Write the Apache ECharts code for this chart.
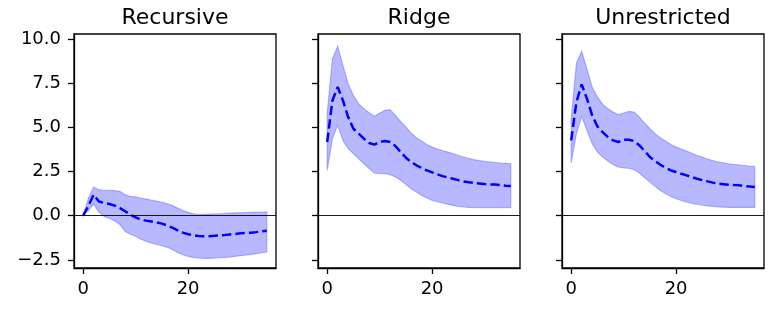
<!DOCTYPE html>
<html>
<head>
<meta charset="utf-8">
<script src="https://cdn.jsdelivr.net/npm/echarts@6/dist/echarts.min.js"></script>
<style>html,body{margin:0;padding:0;background:#fff;}#c{width:776px;height:314px;}</style>
</head>
<body>
<div id="c"></div>
<script>
// ---- data ----
const titles = ['Recursive', 'Ridge', 'Unrestricted'];
const horizons = Array.from({length: 36}, (_, i) => i);
const yTicks = [-2.5, 0, 2.5, 5, 7.5, 10];
const xTicks = [0, 20];

const recursiveMean = [0, 0.57, 1.19, 0.8, 0.72, 0.66, 0.57, 0.43, 0.25, 0.06, -0.09, -0.22, -0.28, -0.33, -0.38, -0.45, -0.55, -0.68, -0.83, -0.96, -1.05, -1.11, -1.15, -1.17, -1.16, -1.14, -1.11, -1.09, -1.06, -1.03, -1.0, -0.98, -0.96, -0.93, -0.89, -0.85];
const recursiveUpper = [0, 1.0, 1.62, 1.47, 1.43, 1.43, 1.42, 1.38, 1.19, 1.09, 1.07, 1.0, 0.94, 0.88, 0.82, 0.76, 0.68, 0.57, 0.43, 0.30, 0.19, 0.11, 0.08, 0.08, 0.09, 0.10, 0.11, 0.13, 0.15, 0.16, 0.17, 0.18, 0.19, 0.2, 0.2, 0.21];
const recursiveLower = [0, 0.3, 0.65, 0.2, -0.04, -0.15, -0.3, -0.5, -0.89, -1.05, -1.17, -1.33, -1.45, -1.55, -1.63, -1.70, -1.79, -1.92, -2.08, -2.21, -2.30, -2.36, -2.40, -2.42, -2.42, -2.40, -2.38, -2.36, -2.34, -2.30, -2.26, -2.23, -2.19, -2.15, -2.10, -2.06];

const ridgeMean = [4.17, 6.52, 7.28, 6.52, 5.58, 4.92, 4.64, 4.36, 4.11, 4.02, 4.17, 4.22, 4.17, 3.94, 3.60, 3.28, 3.04, 2.85, 2.70, 2.56, 2.45, 2.34, 2.24, 2.16, 2.09, 2.01, 1.94, 1.89, 1.85, 1.82, 1.79, 1.77, 1.76, 1.73, 1.70, 1.68];
const ridgeUpper = [5.8, 8.88, 9.58, 8.5, 7.47, 6.8, 6.33, 6.05, 5.83, 5.62, 5.81, 5.96, 6.0, 5.67, 5.33, 5.02, 4.68, 4.41, 4.22, 4.03, 3.88, 3.78, 3.69, 3.60, 3.51, 3.41, 3.32, 3.24, 3.17, 3.12, 3.07, 3.04, 3.01, 2.98, 2.96, 2.94];
const ridgeLower = [2.56, 4.36, 5.11, 4.26, 3.79, 3.51, 3.22, 2.94, 2.66, 2.41, 2.38, 2.38, 2.32, 2.19, 2.0, 1.77, 1.53, 1.34, 1.15, 1.0, 0.87, 0.79, 0.72, 0.65, 0.58, 0.53, 0.49, 0.47, 0.45, 0.45, 0.45, 0.45, 0.45, 0.45, 0.45, 0.45];

const unrestrictedMean = [4.26, 6.43, 7.43, 6.62, 5.68, 5.05, 4.73, 4.45, 4.26, 4.17, 4.30, 4.30, 4.22, 3.98, 3.66, 3.32, 3.09, 2.88, 2.71, 2.56, 2.47, 2.37, 2.28, 2.18, 2.09, 2.01, 1.94, 1.87, 1.81, 1.78, 1.75, 1.73, 1.72, 1.68, 1.65, 1.62];
const unrestrictedUpper = [5.5, 8.63, 9.31, 8.31, 7.28, 6.71, 6.30, 6.05, 5.86, 5.71, 5.81, 5.90, 5.86, 5.58, 5.24, 4.92, 4.64, 4.41, 4.22, 4.03, 3.88, 3.77, 3.66, 3.53, 3.41, 3.31, 3.21, 3.12, 3.04, 2.99, 2.94, 2.90, 2.87, 2.84, 2.81, 2.79];
const unrestrictedLower = [2.98, 4.64, 5.62, 4.83, 4.07, 3.60, 3.32, 3.09, 2.88, 2.75, 2.71, 2.68, 2.60, 2.41, 2.15, 1.90, 1.66, 1.43, 1.24, 1.09, 0.96, 0.86, 0.77, 0.70, 0.64, 0.59, 0.55, 0.52, 0.49, 0.48, 0.47, 0.47, 0.47, 0.47, 0.47, 0.47];

const panels = [
  {mean: recursiveMean, upper: recursiveUpper, lower: recursiveLower},
  {mean: ridgeMean, upper: ridgeUpper, lower: ridgeLower},
  {mean: unrestrictedMean, upper: unrestrictedUpper, lower: unrestrictedLower}
];

// ---- layout / style ----
const FONT = 'DejaVu Sans';
const gridLefts = [74, 318, 562];
const gridW = 202, gridTop = 34, gridH = 234;
const fillColor = 'rgba(0,0,255,0.28)';
const edgeColor = 'rgba(0,0,255,0.25)';

const chart = echarts.init(document.getElementById('c'), null, {renderer: 'canvas'});

const grid = [], xAxis = [], yAxis = [], series = [], title = [];
panels.forEach((p, i) => {
  grid.push({left: gridLefts[i], top: gridTop, width: gridW, height: gridH,
    show: true, borderColor: '#000', borderWidth: 1.3, backgroundColor: 'transparent'});
  title.push({text: titles[i], left: gridLefts[i] + gridW / 2, top: 7, textAlign: 'center', padding: 0,
    textStyle: {fontFamily: FONT, fontSize: 22, fontWeight: 'normal', color: '#000'}});
  xAxis.push({type: 'value', gridIndex: i, min: -1.75, max: 36.75,
    axisLine: {show: true, onZero: false, lineStyle: {color: '#000', width: 1.3}},
    axisTick: {show: true, length: 6, customValues: xTicks, lineStyle: {color: '#000', width: 1.3}},
    axisLabel: {show: true, customValues: xTicks, margin: 12, fontFamily: FONT, fontSize: 18, color: '#000',
      formatter: v => String(v)},
    splitLine: {show: false}});
  yAxis.push({type: 'value', gridIndex: i, min: -2.96, max: 10.28,
    axisLine: {show: true, onZero: false, lineStyle: {color: '#000', width: 1.3}},
    axisTick: {show: true, length: 6, customValues: yTicks, lineStyle: {color: '#000', width: 1.3}},
    axisLabel: {show: i === 0, customValues: yTicks, margin: 13, fontFamily: FONT, fontSize: 18, color: '#000',
      formatter: v => (v < 0 ? '\u2212' : '') + Math.abs(v).toFixed(1)},
    splitLine: {show: false}});

  // confidence band: polygon through upper then reversed lower, mapped by the axes
  series.push({type: 'custom', xAxisIndex: i, yAxisIndex: i, silent: true, animation: false, z: 2,
    data: [[0, 0]],
    renderItem: function (params, api) {
      const pts = [];
      horizons.forEach((h, k) => pts.push(api.coord([h, p.upper[k]])));
      for (let k = horizons.length - 1; k >= 0; k--) pts.push(api.coord([horizons[k], p.lower[k]]));
      return {type: 'polygon', shape: {points: pts},
        style: {fill: fillColor, stroke: edgeColor, lineWidth: 1.2}};
    }});
  series.push({type: 'line', xAxisIndex: i, yAxisIndex: i,
    data: horizons.map((h, k) => [h, p.mean[k]]), symbol: 'none', silent: true, animation: false,
    lineStyle: {color: '#0000ff', width: 2.5, type: [9.4, 4.1]}, z: 4,
    markLine: {silent: true, symbol: 'none', animation: false, label: {show: false},
      lineStyle: {color: '#000', width: 0.9, type: 'solid'}, data: [{yAxis: 0}]}});
});

chart.setOption({animation: false, title, grid, xAxis, yAxis, series});
</script>
</body>
</html>
